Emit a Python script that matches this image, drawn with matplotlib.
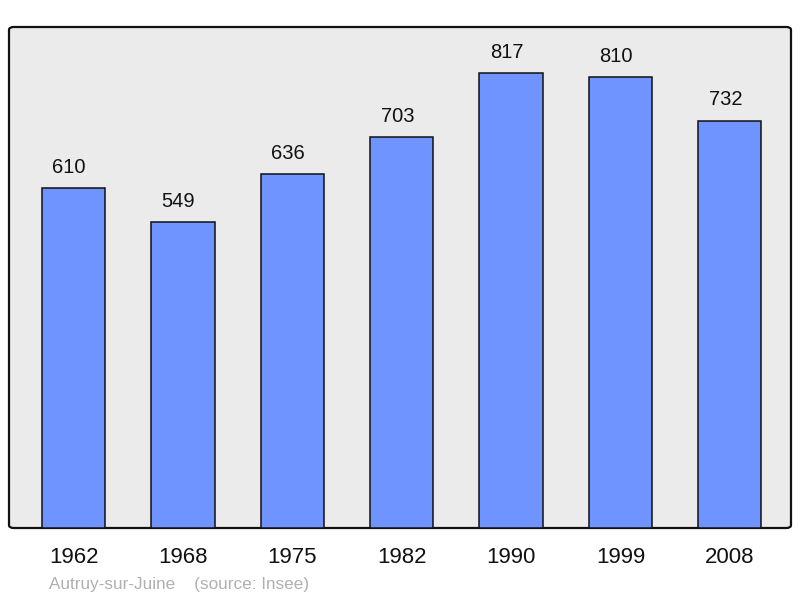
import matplotlib.pyplot as plt
from matplotlib.patches import FancyBboxPatch

plt.rcParams['font.family'] = ['Liberation Sans', 'DejaVu Sans']

years = ['1962', '1968', '1975', '1982', '1990', '1999', '2008']
population = [610, 549, 636, 703, 817, 810, 732]

fig = plt.figure(figsize=(8, 5.98), dpi=100)
ax = fig.add_axes([9/800, 70/598, 782/800, 501/598])
ax.set_facecolor('none')

# rounded grey frame behind the bars
frame = FancyBboxPatch((0, 0), 1, 1, boxstyle='round,pad=0,rounding_size=0.006',
                       transform=ax.transAxes, facecolor='#ebebeb',
                       edgecolor='#111111', linewidth=1.6, zorder=0, clip_on=False)
ax.add_patch(frame)

x = range(len(years))
ax.bar(x, population, width=0.58, color='#7094ff', edgecolor='#111111',
       linewidth=1.1, zorder=2)

# value labels sit a little left of the bar centre in the original
for i, v in zip(x, population):
    ax.text(i - 0.04, v + 27, str(v), ha='center', va='baseline', fontsize=14.5, color='#111111')

ax.set_xlim(-0.59, 6.56)
ax.set_ylim(0, 900)
ax.set_xticks(list(x))
ax.set_xticklabels(years, fontsize=16, color='#111111')
ax.tick_params(axis='x', length=0, pad=14)
ax.set_yticks([])
for s in ax.spines.values():
    s.set_visible(False)

fig.text(49/800, 1 - 584/598, 'Autruy-sur-Juine    (source: Insee)',
         fontsize=12.3, color='#b0b0b0', va='center', ha='left')

fig.savefig('out.png', dpi=100)
